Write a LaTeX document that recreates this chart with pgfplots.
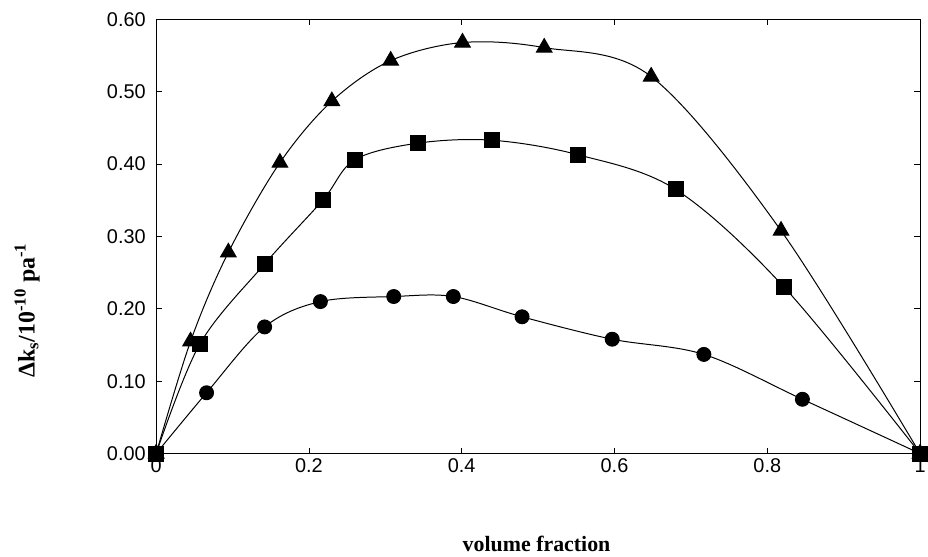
\documentclass[border=0pt]{standalone}
\usepackage{pgfplots}
\pgfplotsset{compat=1.18}
\usepackage{fontspec}
\setmainfont{Liberation Sans}
\newfontfamily\tnr{Liberation Serif}

\begin{document}
\begin{tikzpicture}
\begin{axis}[
  scale only axis,
  width=768pt, height=436.5pt,
  xmin=0, xmax=1, ymin=0, ymax=0.6,
  xtick={0,0.2,0.4,0.6,0.8,1},
  ytick={0,0.1,0.2,0.3,0.4,0.5,0.6},
  xticklabels={0,0.2,0.4,0.6,0.8,1},
  yticklabel style={/pgf/number format/fixed, /pgf/number format/fixed zerofill, /pgf/number format/precision=2, xshift=-7pt},
  /pgf/number format/assume math mode=true,
  tick align=inside,
  major tick length=6pt,
  tick style={black, line width=0.8pt},
  axis line style={line width=1pt},
  ticklabel style={font=\fontsize{20}{22}\selectfont},
  xticklabel style={yshift=-2pt},
  clip=false,
  xlabel={\tnr\bfseries volume fraction},
  ylabel={\tnr\bfseries Δk\textsubscript{s}/10\textsuperscript{-10} pa\textsuperscript{-1}},
  xlabel style={at={(axis description cs:0.498,-0.208)}, anchor=center, font=\fontsize{22}{24}\selectfont},
  ylabel style={at={(axis description cs:-0.169,0.33)}, anchor=center, font=\fontsize{24}{26}\selectfont},
  every axis plot/.append style={black, line width=1pt, smooth, tension=0.55},
]
% triangles
\addplot[mark=triangle*, mark size=9pt, mark options={solid}] coordinates {
  (0,0) (0.045,0.155) (0.0945,0.278) (0.162,0.402) (0.230,0.487) (0.307,0.543)
  (0.401,0.568) (0.508,0.561) (0.648,0.521) (0.818,0.308) (1,0)
};
% squares
\addplot[mark=square*, mark size=7.5pt] coordinates {
  (0,0) (0.057,0.151) (0.142,0.262) (0.218,0.350) (0.260,0.406) (0.343,0.429)
  (0.440,0.433) (0.552,0.413) (0.680,0.365) (0.822,0.230) (1,0)
};
% circles
\addplot[mark=*, mark size=7pt] coordinates {
  (0,0) (0.066,0.084) (0.142,0.175) (0.215,0.210) (0.311,0.217) (0.389,0.217)
  (0.479,0.189) (0.597,0.158) (0.717,0.137) (0.846,0.075) (1,0)
};
\end{axis}
\pgfresetboundingbox
\path[use as bounding box] ([shift={(-157pt,-104pt)}]current axis.south west)
  rectangle ([shift={(8pt,19.5pt)}]current axis.north east);
\end{tikzpicture}
\end{document}
